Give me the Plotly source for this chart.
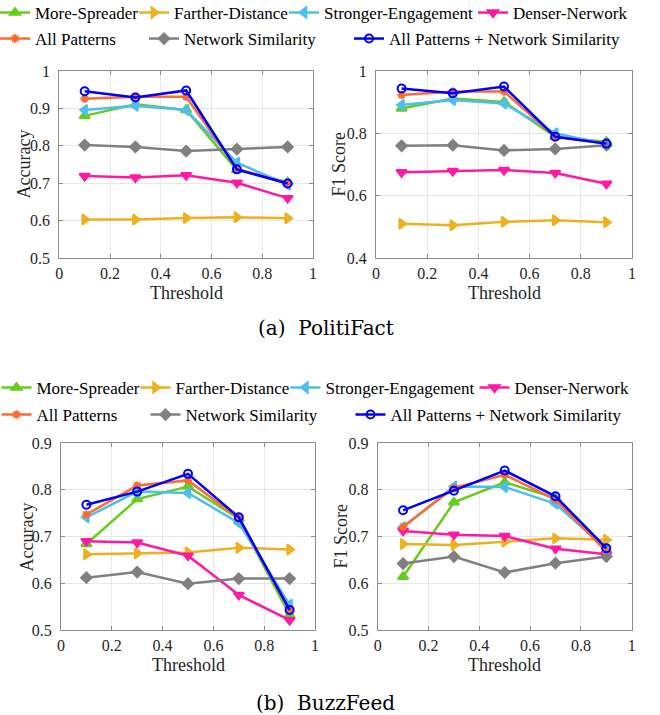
import plotly.graph_objects as go

W, H = 660, 715

thresholds = [0.1, 0.3, 0.5, 0.7, 0.9]
series_names = ["More-Spreader", "Farther-Distance", "Stronger-Engagement", "Denser-Nerwork",
                "All Patterns", "Network Similarity", "All Patterns + Network Similarity"]

# PolitiFact - Accuracy
pf_acc_more = [0.880, 0.911, 0.896, 0.735, 0.703]
pf_acc_farther = [0.603, 0.603, 0.607, 0.609, 0.606]
pf_acc_stronger = [0.896, 0.907, 0.896, 0.755, 0.696]
pf_acc_denser = [0.719, 0.715, 0.721, 0.701, 0.660]
pf_acc_allp = [0.926, 0.931, 0.931, 0.739, 0.699]
pf_acc_netsim = [0.802, 0.797, 0.786, 0.791, 0.797]
pf_acc_allns = [0.946, 0.929, 0.948, 0.737, 0.699]

# PolitiFact - F1
pf_f1_more = [0.880, 0.912, 0.901, 0.789, 0.773]
pf_f1_farther = [0.510, 0.505, 0.516, 0.521, 0.515]
pf_f1_stronger = [0.891, 0.907, 0.896, 0.800, 0.765]
pf_f1_denser = [0.675, 0.679, 0.682, 0.673, 0.638]
pf_f1_allp = [0.923, 0.934, 0.934, 0.789, 0.767]
pf_f1_netsim = [0.760, 0.762, 0.745, 0.750, 0.762]
pf_f1_allns = [0.944, 0.929, 0.950, 0.789, 0.767]

# BuzzFeed - Accuracy
bf_acc_more = [0.684, 0.780, 0.807, 0.738, 0.532]
bf_acc_farther = [0.662, 0.664, 0.666, 0.676, 0.672]
bf_acc_stronger = [0.741, 0.796, 0.793, 0.729, 0.554]
bf_acc_denser = [0.690, 0.687, 0.659, 0.575, 0.521]
bf_acc_allp = [0.747, 0.809, 0.820, 0.739, 0.544]
bf_acc_netsim = [0.612, 0.624, 0.599, 0.610, 0.610]
bf_acc_allns = [0.768, 0.796, 0.834, 0.741, 0.543]

# BuzzFeed - F1
bf_f1_more = [0.614, 0.773, 0.816, 0.782, 0.668]
bf_f1_farther = [0.684, 0.682, 0.689, 0.696, 0.693]
bf_f1_stronger = [0.720, 0.807, 0.806, 0.770, 0.673]
bf_f1_denser = [0.712, 0.704, 0.701, 0.674, 0.662]
bf_f1_allp = [0.721, 0.804, 0.832, 0.779, 0.668]
bf_f1_netsim = [0.642, 0.657, 0.623, 0.643, 0.657]
bf_f1_allns = [0.756, 0.798, 0.841, 0.786, 0.675]

x_ticks = [0, 0.2, 0.4, 0.6, 0.8, 1]

styles = [
    dict(color="#66cc1e", symbol="triangle-up", size=9),
    dict(color="#edb120", symbol="triangle-right", size=9),
    dict(color="#4dbeee", symbol="triangle-left", size=9),
    dict(color="#ff1aa3", symbol="triangle-down", size=9),
    dict(color="#ff6a2e", symbol="asterisk-open", size=7),
    dict(color="#808080", symbol="diamond", size=8),
    dict(color="#0000ff", symbol="circle-open", size=8),
]

panels = [
    dict(data=[pf_acc_more, pf_acc_farther, pf_acc_stronger, pf_acc_denser, pf_acc_allp, pf_acc_netsim, pf_acc_allns],
         px=(59.3, 313), py=(71, 258), yr=[0.5, 1], dt=0.1, ylab="Accuracy", ylx=24, leg="top"),
    dict(data=[pf_f1_more, pf_f1_farther, pf_f1_stronger, pf_f1_denser, pf_f1_allp, pf_f1_netsim, pf_f1_allns],
         px=(376, 632), py=(71, 258), yr=[0.4, 1], dt=0.2, ylab="F1 Score", ylx=339, leg=None),
    dict(data=[bf_acc_more, bf_acc_farther, bf_acc_stronger, bf_acc_denser, bf_acc_allp, bf_acc_netsim, bf_acc_allns],
         px=(61, 315), py=(443, 630), yr=[0.5, 0.9], dt=0.1, ylab="Accuracy", ylx=26, leg="bottom"),
    dict(data=[bf_f1_more, bf_f1_farther, bf_f1_stronger, bf_f1_denser, bf_f1_allp, bf_f1_netsim, bf_f1_allns],
         px=(377.7, 631.7), py=(443, 630), yr=[0.5, 0.9], dt=0.1, ylab="F1 Score", ylx=340, leg=None),
]

# legend text start positions (px) and row centres
leg_text_x = [36, 175, 325, 514, 36, 185, 390]
leg_row = [0, 0, 0, 0, 1, 1, 1]
leg_rows_y = {"top": (13, 39), "bottom": (388, 415)}
leg_shift = {"top": 0, "bottom": 1.5}

FONT = "Liberation Serif, Times New Roman, serif"
CAP_FONT = "DejaVu Serif, serif"

fig = go.Figure()
layout = dict(
    width=W, height=H, margin=dict(l=0, r=0, t=0, b=0, autoexpand=False),
    paper_bgcolor="white", plot_bgcolor="white",
    font=dict(family=FONT, size=16, color="#262626"),
    showlegend=True, annotations=[],
)

legend_count = 0
for i, p in enumerate(panels):
    ax = "" if i == 0 else str(i + 1)
    xd = [p["px"][0] / W, p["px"][1] / W]
    yd = [(H - p["py"][1]) / H, (H - p["py"][0]) / H]
    yt = []
    v = p["yr"][0]
    while v <= p["yr"][1] + 1e-9:
        yt.append(round(v, 2))
        v += p["dt"]
    common = dict(showline=True, linecolor="#8c8c8c", linewidth=1, mirror="ticks",
                  ticks="inside", ticklen=4, tickcolor="#8c8c8c",
                  showgrid=True, gridcolor="#e8e8e8", gridwidth=1, zeroline=False,
                  tickfont=dict(family=FONT, size=16, color="#262626"), automargin=False)
    layout["xaxis" + ax] = dict(domain=xd, range=[0, 1], tickvals=x_ticks, anchor="y" + ax,
                                ticklabelstandoff=1, **common)
    layout["yaxis" + ax] = dict(domain=yd, range=p["yr"], tickvals=yt, anchor="x" + ax,
                                ticklabelstandoff=5, **common)
    for k, (name, vals) in enumerate(zip(series_names, p["data"])):
        st = styles[k]
        tr = dict(x=thresholds, y=vals, name=name, mode="lines+markers",
                  xaxis="x" + ax, yaxis="y" + ax,
                  line=dict(color=st["color"], width=2.5),
                  marker=dict(symbol=st["symbol"], size=st["size"], color=st["color"],
                              line=dict(color=st["color"], width=2)),
                  showlegend=False)
        if p["leg"] is not None:
            legend_count += 1
            lname = "legend" if legend_count == 1 else "legend" + str(legend_count)
            tr["showlegend"] = True
            tr["legend"] = lname
            ry = leg_rows_y[p["leg"]][leg_row[k]]
            lx = (leg_text_x[k] + leg_shift[p["leg"]] - 41) / W
            layout[lname] = dict(x=lx, y=(H - ry) / H, xanchor="left", yanchor="middle",
                                 bgcolor="rgba(0,0,0,0)", borderwidth=0, itemwidth=30,
                                 font=dict(family=FONT, size=17, color="black"))
        fig.add_trace(go.Scatter(**tr))
    # axis titles
    xc = (p["px"][0] + p["px"][1]) / 2
    layout["annotations"].append(dict(text="Threshold", x=xc / W, y=(H - (p["py"][1] + 35)) / H,
                                      xref="paper", yref="paper", showarrow=False,
                                      xanchor="center", yanchor="middle",
                                      font=dict(family=FONT, size=18, color="#262626")))
    yc = (p["py"][0] + p["py"][1]) / 2
    layout["annotations"].append(dict(text=p["ylab"], x=p["ylx"] / W, y=(H - yc) / H,
                                      xref="paper", yref="paper", showarrow=False, textangle=-90,
                                      xanchor="center", yanchor="middle",
                                      font=dict(family=FONT, size=18, color="#262626")))

for txt, yy in [("(a)&nbsp;&nbsp;PolitiFact", 328), ("(b)&nbsp;&nbsp;BuzzFeed", 703)]:
    layout["annotations"].append(dict(text=txt, x=325.5 / W, y=(H - yy) / H, xref="paper", yref="paper",
                                      showarrow=False, xanchor="center", yanchor="middle",
                                      font=dict(family=CAP_FONT, size=20, color="black")))

fig.update_layout(**layout)
fig.write_html("out.html")
